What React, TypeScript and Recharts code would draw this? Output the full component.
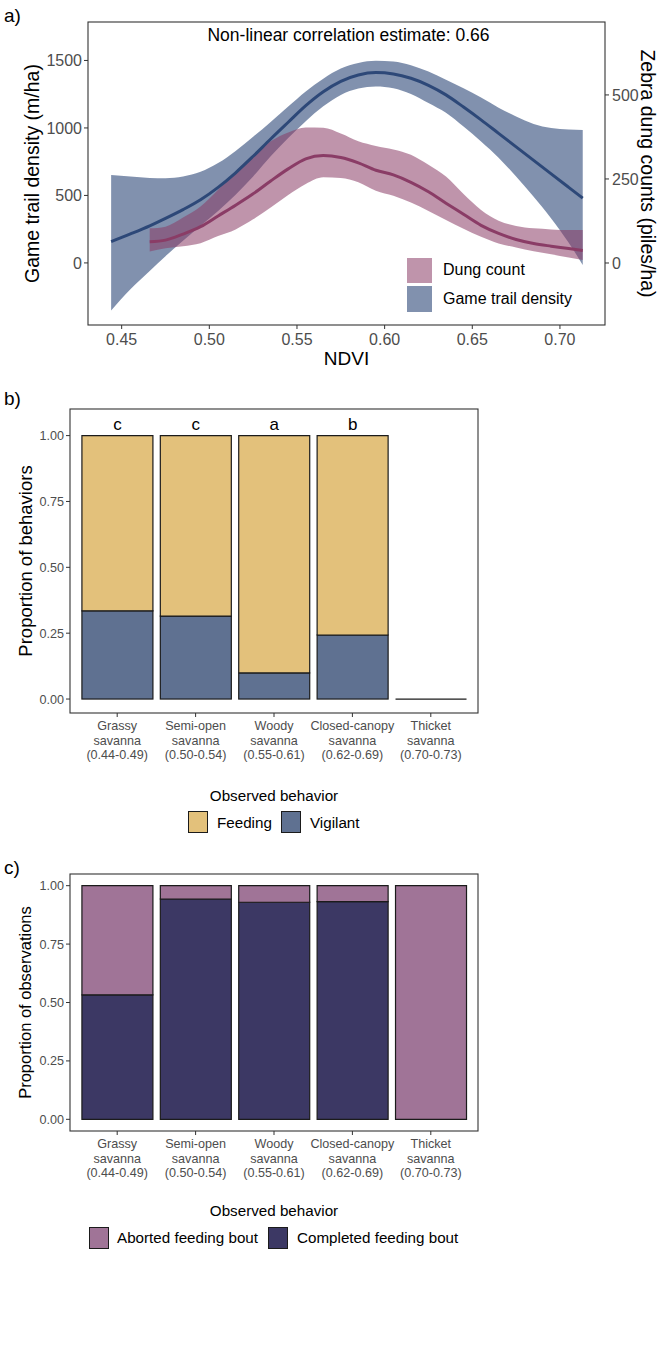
import React from "react";
import { ComposedChart, Area, Line, XAxis, YAxis, BarChart, Bar, LabelList } from "recharts";

const FONT = "'Liberation Sans', Arial, Helvetica, sans-serif";

// ---- panel a: smoothed fits with standard-error bands ----
const ndvi = [
  0.444, 0.455, 0.466, 0.475, 0.485, 0.495, 0.505, 0.515, 0.525, 0.535, 0.545, 0.555, 0.565, 0.575,
  0.585, 0.595, 0.605, 0.615, 0.625, 0.635, 0.645, 0.655, 0.665, 0.675, 0.685, 0.695, 0.705, 0.713,
];
// game trail density (m/ha), left axis
const trailFit = [
  158, 215, 275, 330, 395, 468, 560, 668, 790, 918, 1042, 1165, 1268, 1345,
  1392, 1410, 1400, 1368, 1316, 1245, 1155, 1060, 960, 860, 760, 660, 560, 480,
];
const trailLow = [
  -353, -195, -60, 50, 165, 275, 385, 505, 640, 790, 925, 1050, 1160, 1245,
  1292, 1308, 1295, 1252, 1185, 1112, 1010, 900, 780, 640, 490, 330, 150, -15,
];
const trailHigh = [
  652, 640, 630, 628, 640, 675, 740, 830, 935, 1045, 1158, 1270, 1365, 1440,
  1482, 1498, 1492, 1465, 1418, 1358, 1295, 1225, 1150, 1085, 1030, 1000, 988, 985,
];
// zebra dung counts (piles/ha), right axis
const dungFit = [
  null, null, 63, 68, 86, 108, 140, 172, 206, 244, 280, 310, 320, 314,
  298, 276, 262, 240, 212, 178, 145, 112, 88, 70, 58, 50, 43, 37,
];
const dungLow = [
  null, null, 34, 44, 50, 59, 80, 100, 130, 165, 202, 235, 255, 253,
  240, 215, 200, 180, 155, 128, 102, 78, 58, 46, 35, 26, 16, 9,
];
const dungHigh = [
  null, null, 103, 108, 135, 168, 218, 272, 322, 362, 388, 403, 402, 385,
  362, 348, 338, 322, 292, 257, 205, 158, 126, 110, 103, 100, 98, 98,
];
const ndviTicks = [0.45, 0.5, 0.55, 0.6, 0.65, 0.7];
const trailTicks = [0, 500, 1000, 1500];
const dungTicks = [0, 250, 500];

// ---- panels b and c ----
const habitats = ["Grassy", "Semi-open", "Woody", "Closed-canopy", "Thicket"];
const ndviRanges = ["(0.44-0.49)", "(0.50-0.54)", "(0.55-0.61)", "(0.62-0.69)", "(0.70-0.73)"];
const feeding = [0.665, 0.685, 0.901, 0.757, 0];
const vigilant = [0.335, 0.315, 0.099, 0.243, 0];
const letters = ["c", "c", "a", "b", ""];
const aborted = [0.467, 0.057, 0.071, 0.068, 1];
const completed = [0.533, 0.943, 0.929, 0.932, 0];
const propTicks = [0, 0.25, 0.5, 0.75, 1];

const BLUE = "#2D4878";
const PINK = "#8A3C66";
const TICK = "#4D4D4D";
const FRAME = "#333333";

const seriesA = ndvi.map((x, i) => ({
  ndvi: x,
  trail: trailFit[i],
  trailBand: [trailLow[i], trailHigh[i]],
  dung: dungFit[i],
  dungBand: [dungLow[i], dungHigh[i]],
}));

const catName = (i: number) => `${habitats[i]}|savanna|${ndviRanges[i]}`;
const behaviorData = habitats.map((_, i) => ({
  name: catName(i),
  feeding: feeding[i],
  vigilant: vigilant[i],
  letter: letters[i],
}));
const boutData = habitats.map((_, i) => ({
  name: catName(i),
  aborted: aborted[i],
  completed: completed[i],
}));

const vbOf = (p: any) => p.viewBox || p;

// frame of the panel plus x title / annotation, drawn from the x axis box
const frameLabel = (top: number, extras?: (vb: any) => React.ReactNode) => (p: any) => {
  const vb = vbOf(p);
  return (
    <g>
      <rect x={vb.x} y={top} width={vb.width} height={vb.y - top} fill="none" stroke={FRAME} strokeWidth={1.1} />
      {extras ? extras(vb) : null}
    </g>
  );
};

const yTitle = (text: string, cx: number, size: number, angle: number) => (p: any) => {
  const vb = vbOf(p);
  const cy = vb.y + vb.height / 2;
  return (
    <text
      x={cx}
      y={cy}
      transform={`rotate(${angle}, ${cx}, ${cy})`}
      textAnchor="middle"
      dominantBaseline="central"
      fontSize={size}
      fill="#000"
    >
      {text}
    </text>
  );
};

const CatTick = (props: any) => {
  const { x, y, payload } = props;
  const lines = String(payload.value).split("|");
  return (
    <text x={x} y={y} textAnchor="middle" fontSize={12.6} fill={TICK}>
      {lines.map((l, k) => (
        <tspan key={k} x={x} dy={k === 0 ? 11 : 14.6}>
          {l}
        </tspan>
      ))}
    </text>
  );
};

// ggplot draws a zero-height bar as a flat outline
const VigilantShape = (props: any) => {
  const { x, y, width, height, fill } = props;
  if (!height) {
    return <line x1={x} x2={x + width} y1={y} y2={y} stroke="#1B1B1B" strokeWidth={1.3} />;
  }
  return <rect x={x} y={y} width={width} height={height} fill={fill} stroke="#1B1B1B" strokeWidth={1.2} />;
};

const Key = ({ left, top, color, w = 20, h = 22, border = true }: any) => (
  <div
    style={{
      position: "absolute",
      left,
      top,
      width: w,
      height: h,
      background: color,
      boxSizing: "border-box",
      border: border ? "1px solid #1B1B1B" : "none",
    }}
  />
);

const Txt = ({ left, top, size, children, color = "#000", center = false }: any) => (
  <div
    style={{
      position: "absolute",
      left: center ? left - 200 : left,
      width: center ? 400 : undefined,
      textAlign: center ? "center" : "left",
      top: top - size / 2,
      fontSize: size,
      lineHeight: `${size}px`,
      color,
      whiteSpace: "nowrap",
    }}
  >
    {children}
  </div>
);

function PanelA() {
  return (
    <div style={{ position: "absolute", left: 0, top: 0 }}>
      <ComposedChart width={661} height={370} data={seriesA} margin={{ top: 22, right: 0, bottom: 0, left: 0 }}>
        <XAxis
          type="number"
          dataKey="ndvi"
          domain={[0.4308, 0.7257]}
          allowDataOverflow
          ticks={ndviTicks}
          tickFormatter={(v: number) => v.toFixed(2)}
          height={45}
          axisLine={false}
          tickSize={4}
          tickMargin={5}
          tick={{ fontSize: 16, fill: TICK }}
          tickLine={{ stroke: FRAME }}
          label={frameLabel(22, (vb) => (
            <g>
              <text x={vb.x + vb.width / 2} y={vb.y + 40} textAnchor="middle" fontSize={19} fill="#000">
                NDVI
              </text>
              <text x={vb.x + vb.width / 2 + 2} y={41} textAnchor="middle" fontSize={17.5} fill="#000">
                Non-linear correlation estimate: 0.66
              </text>
            </g>
          ))}
        />
        <YAxis
          yAxisId="left"
          domain={[-460, 1785]}
          allowDataOverflow
          ticks={trailTicks}
          width={88}
          axisLine={false}
          tickSize={4}
          tickMargin={2}
          tick={{ fontSize: 16, fill: TICK }}
          tickLine={{ stroke: FRAME }}
          label={yTitle("Game trail density (m/ha)", 32, 19.5, -90)}
        />
        <YAxis
          yAxisId="right"
          orientation="right"
          domain={[-184.5, 717]}
          allowDataOverflow
          ticks={dungTicks}
          width={56}
          axisLine={false}
          tickSize={4}
          tickMargin={3}
          tick={{ fontSize: 16, fill: TICK }}
          tickLine={{ stroke: FRAME }}
          label={yTitle("Zebra dung counts (piles/ha)", 648, 19.5, 90)}
        />
        <Area
          yAxisId="left"
          type="monotone"
          dataKey="trailBand"
          stroke="none"
          fill={BLUE}
          fillOpacity={0.6}
          isAnimationActive={false}
        />
        <Area
          yAxisId="right"
          type="monotone"
          dataKey="dungBand"
          stroke="none"
          fill={PINK}
          fillOpacity={0.55}
          isAnimationActive={false}
        />
        <Line
          yAxisId="left"
          type="monotone"
          dataKey="trail"
          stroke={BLUE}
          strokeWidth={3}
          dot={false}
          isAnimationActive={false}
        />
        <Line
          yAxisId="right"
          type="monotone"
          dataKey="dung"
          stroke={PINK}
          strokeWidth={3}
          dot={false}
          isAnimationActive={false}
        />
      </ComposedChart>
      <Key left={407} top={258} w={25} h={25} color="rgba(138,60,102,0.55)" border={false} />
      <Key left={407} top={286} w={25} h={26} color="rgba(45,72,120,0.6)" border={false} />
      <Txt left={443} top={270} size={16}>Dung count</Txt>
      <Txt left={443} top={299} size={16}>Game trail density</Txt>
    </div>
  );
}

function PanelB() {
  return (
    <div style={{ position: "absolute", left: 0, top: 380 }}>
      <BarChart
        width={661}
        height={400}
        data={behaviorData}
        margin={{ top: 29, right: 183, bottom: 0, left: 0 }}
        barCategoryGap="5%"
      >
        <XAxis
          dataKey="name"
          height={67}
          padding={{ left: 8, right: 8 }}
          axisLine={false}
          tickSize={4}
          tickMargin={2}
          tickLine={{ stroke: FRAME }}
          tick={<CatTick />}
          interval={0}
          label={frameLabel(29)}
        />
        <YAxis
          domain={[-0.053, 1.101]}
          allowDataOverflow
          ticks={propTicks}
          tickFormatter={(v: number) => v.toFixed(2)}
          width={70}
          axisLine={false}
          tickSize={4}
          tickMargin={2}
          tick={{ fontSize: 12.6, fill: TICK }}
          tickLine={{ stroke: FRAME }}
          label={yTitle("Proportion of behaviors", 25, 18.5, -90)}
        />
        <Bar
          dataKey="vigilant"
          stackId="s"
          fill="#5F7191"
          shape={<VigilantShape />}
          isAnimationActive={false}
        />
        <Bar
          dataKey="feeding"
          stackId="s"
          fill="#E3C17B"
          stroke="#1B1B1B"
          strokeWidth={1.2}
          isAnimationActive={false}
        >
          <LabelList dataKey="letter" position="top" offset={6} fontSize={17} fill="#000" />
        </Bar>
      </BarChart>
    </div>
  );
}

function PanelC() {
  return (
    <div style={{ position: "absolute", left: 0, top: 840 }}>
      <BarChart
        width={661}
        height={360}
        data={boutData}
        margin={{ top: 34, right: 183, bottom: 0, left: 0 }}
        barCategoryGap="5%"
      >
        <XAxis
          dataKey="name"
          height={69}
          padding={{ left: 8, right: 8 }}
          axisLine={false}
          tickSize={4}
          tickMargin={2}
          tickLine={{ stroke: FRAME }}
          tick={<CatTick />}
          interval={0}
          label={frameLabel(34)}
        />
        <YAxis
          domain={[-0.05, 1.05]}
          allowDataOverflow
          ticks={propTicks}
          tickFormatter={(v: number) => v.toFixed(2)}
          width={70}
          axisLine={false}
          tickSize={4}
          tickMargin={2}
          tick={{ fontSize: 12.6, fill: TICK }}
          tickLine={{ stroke: FRAME }}
          label={yTitle("Proportion of observations", 25, 16.5, -90)}
        />
        <Bar
          dataKey="completed"
          stackId="s"
          fill="#3C3864"
          stroke="#1B1B1B"
          strokeWidth={1.2}
          isAnimationActive={false}
        />
        <Bar
          dataKey="aborted"
          stackId="s"
          fill="#A07497"
          stroke="#1B1B1B"
          strokeWidth={1.2}
          isAnimationActive={false}
        />
      </BarChart>
    </div>
  );
}

export default function App() {
  return (
    <div
      style={{
        position: "absolute",
        left: 0,
        top: 0,
        width: 661,
        height: 1347,
        background: "#fff",
        fontFamily: FONT,
      }}
    >
      <PanelA />
      <PanelB />
      <PanelC />

      <Txt left={4} top={15} size={19}>a)</Txt>
      <Txt left={4} top={398} size={19}>b)</Txt>
      <Txt left={4} top={867} size={19}>c)</Txt>

      {/* legend b */}
      <Txt left={274} top={796} size={15.2} center>Observed behavior</Txt>
      <Key left={188} top={811} color="#E3C17B" />
      <Txt left={217} top={823} size={15.2}>Feeding</Txt>
      <Key left={281} top={811} color="#5F7191" />
      <Txt left={310} top={823} size={15.2}>Vigilant</Txt>

      {/* legend c */}
      <Txt left={274} top={1211} size={15.2} center>Observed behavior</Txt>
      <Key left={89} top={1227} color="#A07497" />
      <Txt left={117} top={1238} size={15.2}>Aborted feeding bout</Txt>
      <Key left={268} top={1227} color="#3C3864" />
      <Txt left={297} top={1238} size={15.2}>Completed feeding bout</Txt>
    </div>
  );
}
